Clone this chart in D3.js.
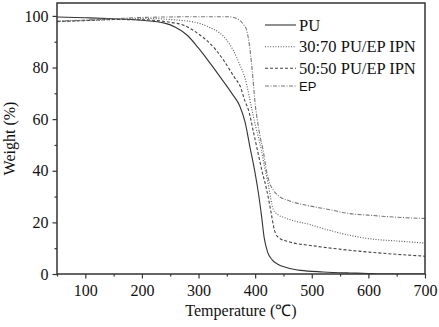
<!DOCTYPE html>
<html>
<head>
<meta charset="utf-8">
<script src="https://cdn.jsdelivr.net/npm/d3@7"></script>
<style>
  body { margin: 0; background: #fff; }
  svg { display: block; }
</style>
</head>
<body>
<div id="chart"></div>
<script>
// ---- data ----
const seriesNames = ["PU", "30:70 PU/EP IPN", "50:50 PU/EP IPN", "EP"];

const puTemp = [50, 100, 150, 200, 240, 260, 280, 300, 320, 340, 360, 373, 382, 391, 400, 406, 411, 416, 422, 430, 440, 455, 480, 520, 567, 600, 630, 700];
const puWeight = [99.6, 99.3, 98.9, 98.3, 97.2, 95.5, 92.5, 87.5, 81.8, 75.8, 69.6, 65, 59, 49, 39, 31, 23, 14, 8.5, 5.5, 3.8, 2.5, 1.4, 0.8, 0.4, 0.2, 0, 0];

const ipn3070Temp = [50, 100, 150, 214, 250, 280, 302, 320, 338, 350, 361, 373, 382, 394, 400, 411, 417, 423, 432, 440, 450, 470, 491, 530, 567, 600, 650, 700];
const ipn3070Weight = [97.8, 98.2, 98.6, 99, 98.6, 98, 97.1, 95.5, 93.3, 90.5, 86.8, 81, 76, 64, 58, 48, 41, 35, 25, 23, 22, 20.5, 19.5, 17, 15, 13.7, 12.8, 12];

const ipn5050Temp = [50, 100, 150, 200, 250, 275, 300, 314, 330, 344, 364, 373, 382, 389, 397, 405, 412, 420, 428, 434, 442, 461, 500, 567, 600, 700];
const ipn5050Weight = [97.8, 98.2, 98.6, 98.5, 97.5, 96.3, 93, 90.6, 87, 82.9, 76, 73, 67, 63, 55, 47, 40, 33, 24, 17, 14, 12.4, 11, 9.2, 8.5, 6.9];

const epTemp = [50, 100, 150, 200, 250, 300, 350, 360, 367, 373, 380, 385, 391, 396, 400, 405, 409, 414, 420, 426, 432, 440, 461, 491, 530, 567, 600, 650, 700];
const epWeight = [98, 98.4, 98.9, 99.4, 99.6, 99.7, 99.7, 99.5, 99, 98.2, 96.5, 94.5, 86.8, 76, 66, 58, 53, 48, 40, 35, 32.5, 30.5, 28.3, 26.6, 25, 23.4, 22.8, 22, 21.5];

const xTicks = [100, 200, 300, 400, 500, 600, 700];
const xMinorTicks = [50, 150, 250, 350, 450, 550, 650];
const yTicks = [0, 20, 40, 60, 80, 100];
const yMinorTicks = [10, 30, 50, 70, 90];

main();

function main () {
  const width = 439,
    height = 327;
  const margin = { top: 3, right: 14, bottom: 53, left: 57 };

  const series = [
    { name: seriesNames[0], x: puTemp, y: puWeight, color: "#333", dash: null, width: 1.1 },
    { name: seriesNames[1], x: ipn3070Temp, y: ipn3070Weight, color: "#555", dash: "1,1.6", width: 1.1 },
    { name: seriesNames[2], x: ipn5050Temp, y: ipn5050Weight, color: "#444", dash: "3,2", width: 1.1 },
    { name: seriesNames[3], x: epTemp, y: epWeight, color: "#777", dash: "4,1.5,1,1.5", width: 1.1 },
  ];

  const svg = d3
    .select("#chart")
    .append("svg")
    .attr("width", width)
    .attr("height", height);

  // scales
  const scaleX = d3
    .scaleLinear()
    .domain([50, 700])
    .range([margin.left, width - margin.right]);
  const scaleY = d3
    .scaleLinear()
    .domain([0, 105])
    .range([height - margin.bottom, margin.top]);

  const serif = "'Liberation Serif', 'Times New Roman', serif";

  svg.append("clipPath")
    .attr("id", "plotClip")
    .append("rect")
    .attr("x", margin.left)
    .attr("y", margin.top)
    .attr("width", width - margin.left - margin.right)
    .attr("height", height - margin.top - margin.bottom);

  // curves
  const line = d3
    .line()
    .x((d) => scaleX(d[0]))
    .y((d) => scaleY(d[1]))
    .curve(d3.curveMonotoneX);

  svg.append("g")
    .attr("clip-path", "url(#plotClip)")
    .selectAll("path")
    .data(series)
    .join("path")
    .attr("fill", "none")
    .attr("stroke", (d) => d.color)
    .attr("stroke-width", (d) => d.width)
    .attr("stroke-dasharray", (d) => d.dash)
    .attr("d", (d) => line(d.x.map((t, i) => [t, d.y[i]])));

  // axes
  const groupAxisX = svg.append("g")
    .attr("transform", `translate(0, ${height - margin.bottom})`);
  groupAxisX.append("g")
    .call(d3.axisBottom(scaleX).tickValues(xMinorTicks).tickSize(2.5).tickFormat(""));
  groupAxisX.append("g")
    .call(d3.axisBottom(scaleX).tickValues(xTicks).tickSize(4.5).tickPadding(6));

  const groupAxisY = svg.append("g")
    .attr("transform", `translate(${margin.left}, 0)`);
  groupAxisY.append("g")
    .call(d3.axisLeft(scaleY).tickValues(yMinorTicks).tickSize(2.5).tickFormat(""));
  groupAxisY.append("g")
    .call(d3.axisLeft(scaleY).tickValues(yTicks).tickSize(4.5).tickPadding(4));

  svg.selectAll(".domain").remove();
  svg.selectAll(".tick line").attr("stroke", "#333").attr("stroke-width", 1.2);
  svg.selectAll(".tick text")
    .attr("fill", "#111")
    .style("font-family", serif)
    .style("font-size", "16px");

  // frame
  svg.append("rect")
    .attr("x", margin.left)
    .attr("y", margin.top)
    .attr("width", width - margin.left - margin.right)
    .attr("height", height - margin.top - margin.bottom)
    .attr("fill", "none")
    .attr("stroke", "#333")
    .attr("stroke-width", 1.5);

  // titles
  svg.append("text")
    .attr("x", (margin.left + width - margin.right) / 2)
    .attr("y", 316)
    .attr("text-anchor", "middle")
    .attr("fill", "#111")
    .style("font-family", serif)
    .style("font-size", "16px")
    .text("Temperature (℃)");

  svg.append("text")
    .attr("transform", `translate(15, ${(margin.top + height - margin.bottom) / 2}) rotate(-90)`)
    .attr("text-anchor", "middle")
    .attr("fill", "#111")
    .style("font-family", serif)
    .style("font-size", "16px")
    .text("Weight (%)");

  // legend
  const legendRowsY = [25, 46.7, 68.3, 86];
  const legend = svg.append("g");
  const rows = legend.selectAll("g")
    .data(series)
    .join("g")
    .attr("transform", (d, i) => `translate(265, ${legendRowsY[i]})`);
  rows.append("line")
    .attr("x1", 0)
    .attr("x2", 31)
    .attr("stroke", (d) => d.color)
    .attr("stroke-width", (d) => d.width)
    .attr("stroke-dasharray", (d) => d.dash);
  rows.append("text")
    .attr("x", 34)
    .attr("dy", "0.35em")
    .attr("fill", "#111")
    .style("font-family", (d, i) => (i === 3 ? "'Liberation Sans', Arial, sans-serif" : serif))
    .style("font-size", (d, i) => (i === 3 ? "13px" : "16.5px"))
    .text((d) => d.name);
}
</script>
</body>
</html>
